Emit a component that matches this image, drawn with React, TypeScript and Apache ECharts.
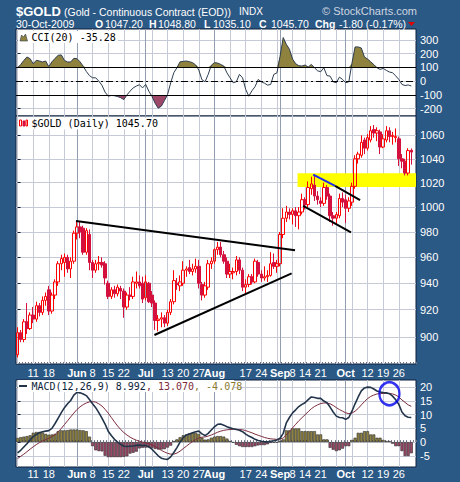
import React, { useEffect, useRef } from 'react';
import * as echarts from 'echarts';

// ---- categories (trading days 2009) ----
const mayDays = [4, 5, 6, 7, 8, 11, 12, 13, 14, 15, 18, 19, 20, 21, 22, 26, 27, 28, 29];
const junDays = [1, 2, 3, 4, 5, 8, 9, 10, 11, 12, 15, 16, 17, 18, 19, 22, 23, 24, 25, 26, 29, 30];
const julDays = [1, 2, 6, 7, 8, 9, 10, 13, 14, 15, 16, 17, 20, 21, 22, 23, 24, 27, 28, 29, 30, 31];
const augDays = [3, 4, 5, 6, 7, 10, 11, 12, 13, 14, 17, 18, 19, 20, 21, 24, 25, 26, 27, 28, 31];
const sepDays = [1, 2, 3, 4, 8, 9, 10, 11, 14, 15, 16, 17, 18, 21, 22, 23, 24, 25, 28, 29, 30];
const octDays = [1, 2, 5, 6, 7, 8, 9, 12, 13, 14, 15, 16, 19, 20, 21, 22, 23, 26, 27, 28, 29, 30];

// ---- price series ----
const opens = [
  887, 903, 898, 911, 906, 916, 913, 923, 918, 927,
  935, 919, 931, 941, 955, 956, 960, 951, 957, 979,
  984, 983, 964, 978, 956, 950, 955, 956, 955, 940,
  930, 935, 932, 936, 934, 922, 931, 930, 940, 941,
  940, 929, 940, 931, 925, 912, 913, 914, 910, 918,
  926, 940, 938, 940, 950, 952, 949, 951, 953, 939,
  931, 937, 955, 957, 966, 968, 962, 957, 947, 948,
  949, 958, 950, 937, 939, 945, 941, 956, 947, 944,
  945, 946, 956, 953, 955, 978, 991, 996, 994, 997,
  993, 996, 1006, 1002, 1015, 1018, 1009, 1005, 1003, 1016,
  1009, 993, 991, 993, 1007, 1006, 999, 1004, 1017, 1040,
  1043, 1056, 1049, 1056, 1065, 1062, 1063, 1050, 1056, 1064,
  1059, 1058, 1057, 1040, 1038, 1028, 1047.2,
];
const highs = [
  907, 905, 913, 925, 918, 922, 926, 925, 930, 933,
  938, 933, 943, 957, 962, 963, 962, 960, 981, 989,
  988, 985, 983, 982, 958, 958, 961, 960, 957, 942,
  937, 938, 939, 938, 936, 933, 937, 945, 949, 946,
  945, 946, 941, 934, 927, 916, 918, 916, 920, 928,
  950, 944, 946, 957, 953, 958, 955, 959, 958, 941,
  941, 958, 960, 967, 972, 972, 965, 960, 955, 952,
  961, 960, 952, 943, 947, 947, 959, 958, 950, 953,
  950, 964, 963, 958, 980, 999, 1001, 999, 999, 1000,
  1000, 1011, 1008, 1021, 1025, 1027, 1013, 1008, 1020, 1018,
  1011, 996, 996, 1011, 1012, 1010, 1008, 1020, 1043, 1046,
  1060, 1058, 1061, 1068, 1069, 1067, 1065, 1061, 1068, 1067,
  1063, 1066, 1059, 1044, 1040, 1049, 1048.8,
];
const lows = [
  885, 896, 896, 902, 905, 910, 911, 915, 916, 923,
  916, 917, 928, 938, 950, 945, 948, 944, 955, 974,
  975, 962, 962, 950, 944, 948, 950, 952, 939, 928,
  928, 929, 930, 928, 914, 920, 927, 928, 936, 936,
  925, 927, 925, 922, 905, 904, 907, 907, 908, 916,
  924, 935, 934, 938, 945, 947, 946, 948, 936, 927,
  929, 935, 951, 955, 962, 960, 955, 944, 944, 943,
  946, 947, 934, 931, 937, 939, 940, 945, 941, 942,
  941, 945, 951, 948, 953, 975, 988, 990, 986, 984,
  982, 994, 998, 1000, 1010, 1005, 1002, 1000, 1001, 1006,
  988, 985, 986, 991, 1000, 987, 996, 1001, 1015, 1036,
  1041, 1044, 1047, 1054, 1058, 1055, 1044, 1049, 1054, 1054,
  1052, 1054, 1034, 1032, 1026, 1026, 1035.1,
];
const closes = [
  903, 898, 911, 906, 916, 913, 923, 918, 927, 930,
  919, 931, 941, 955, 959, 960, 951, 957, 979, 984,
  980, 964, 981, 956, 950, 955, 956, 954, 944, 930,
  935, 932, 937, 934, 922, 931, 930, 941, 941, 938,
  928, 941, 926, 925, 912, 913, 914, 910, 918, 926,
  942, 939, 941, 950, 951, 949, 951, 953, 940, 931,
  938, 955, 957, 966, 968, 962, 957, 947, 949, 949,
  958, 950, 937, 939, 945, 941, 957, 947, 944, 945,
  946, 955, 953, 955, 978, 991, 996, 994, 997, 993,
  996, 1006, 1002, 1016, 1019, 1009, 1006, 1003, 1016, 1009,
  993, 991, 994, 1007, 1004, 999, 1005, 1017, 1040, 1044,
  1054, 1049, 1058, 1064, 1062, 1064, 1050, 1057, 1064, 1059,
  1060, 1059, 1040, 1038, 1028, 1047, 1045.7,
];

// ---- indicators ----
const cciValues = [
  97, 120, 150, 175, 163, 126, 151, 146, 139, 146,
  105, 140, 165, 187, 190, 150, 139, 139, 165, 163,
  140, 108, 70, 40, 24, 24, 0, -30, -80, -109,
  -104, -106, -112, -120, -134, -100, -73, -49, -36, -26,
  -49, -24, -73, -110, -160, -196, -182, -141, -97, -12,
  61, 97, 140, 143, 146, 141, 134, 117, 80, 10,
  -5, 49, 115, 134, 131, 121, 109, 60, 24, -12,
  -5, 49, 24, -60, -109, -70, -40, 12, -5, -15,
  -29, -24, 49, 60, 180, 316, 267, 231, 160, 126,
  112, 109, 117, 102, 121, 97, 75, 68, 97, 40,
  36, -5, -12, 29, 12, -12, -5, 130, 248, 248,
  240, 175, 160, 140, 120, 97, 85, 92, 78, 66,
  61, 38, 12, -24, -32, -28, -35.28,
];
const macdLine = [
  -3.9, -3.0, -1.8, -0.6, 0.8, 2.0, 2.8, 3.4, 3.8, 4.0,
  4.2, 5.0, 6.8, 8.8, 10.8, 12.6, 14.0, 15.2, 17.2, 18.2,
  18.0, 17.6, 17.0, 15.6, 14.0, 12.6, 10.8, 8.8, 6.6, 4.0,
  2.4, 1.0, 0.0, -0.8, -1.5, -1.6, -1.5, -1.4, -1.2, -1.1,
  -1.3, -1.2, -1.7, -2.6, -3.8, -5.0, -5.9, -6.2, -6.3, -5.4,
  -3.8, -2.0, 0.0, 1.6, 2.6, 3.0, 3.4, 3.8, 4.0, 3.0,
  2.4, 3.2, 4.4, 5.6, 6.5, 6.6, 6.2, 5.6, 5.2, 4.9,
  4.6, 4.3, 3.8, 2.9, 2.2, 1.7, 1.0, 0.6, 0.3, 0.1,
  0.1, 0.3, 0.5, 0.8, 1.4, 3.2, 7.0, 9.0, 10.7, 11.8,
  13.0, 13.8, 14.4, 15.5, 16.5, 16.3, 16.0, 16.0, 15.0, 14.4,
  12.8, 11.0, 9.5, 9.0, 8.9, 8.3, 9.0, 11.3, 14.0, 16.5,
  18.7, 19.8, 20.1, 20.0, 19.4, 18.7, 18.3, 18.1, 18.0, 17.7,
  16.8, 15.5, 13.8, 11.0, 9.6, 9.1, 8.992,
];
const signalLine = [
  -6.0, -5.2, -4.4, -3.5, -2.6, -1.7, -0.9, -0.2, 0.4, 0.9,
  1.4, 2.0, 2.8, 3.8, 5.0, 6.4, 7.8, 9.2, 10.6, 11.9,
  12.9, 13.7, 14.3, 14.7, 14.8, 14.6, 14.0, 13.2, 12.0, 10.6,
  9.0, 7.4, 5.9, 4.6, 3.5, 2.6, 1.8, 1.2, 0.7, 0.3,
  0.0, -0.3, -0.6, -1.0, -1.6, -2.3, -3.0, -3.6, -4.1, -4.4,
  -4.4, -4.0, -3.3, -2.4, -1.5, -0.6, 0.2, 0.9, 1.5, 1.8,
  1.9, 2.2, 2.6, 3.1, 3.6, 4.0, 4.3, 4.5, 4.6, 4.7,
  4.7, 4.6, 4.5, 4.2, 3.8, 3.4, 2.9, 2.5, 2.1, 1.7,
  1.4, 1.2, 1.1, 1.0, 1.1, 1.5, 2.6, 3.9, 5.2, 6.5,
  7.8, 8.9, 10.0, 11.1, 12.2, 13.0, 13.6, 14.1, 14.3, 14.3,
  14.0, 13.4, 12.6, 11.9, 11.3, 10.7, 10.4, 10.6, 11.3, 12.3,
  13.6, 14.8, 15.9, 16.7, 17.2, 17.6, 17.7, 17.8, 17.8, 17.8,
  17.6, 17.2, 16.5, 15.4, 14.5, 13.6, 13.07,
];
const macdHist = [
  1.5, 1.8, 2.0, 2.2, 2.5, 3.4, 3.7, 3.7, 3.5, 3.0,
  2.7, 2.8, 3.0, 4.0, 4.3, 4.3, 4.4, 4.6, 4.6, 4.6,
  4.4, 4.3, 4.0, 2.0, -1.5, -3.0, -3.3, -3.4, -5.0, -5.5,
  -5.5, -5.5, -5.5, -5.5, -5.4, -5.2, -4.2, -3.9, -3.5, -2.3,
  -2.1, -2.0, -2.0, -2.1, -2.5, -2.7, -2.7, -2.6, -2.0, -1.3,
  0.4, 1.0, 1.8, 2.5, 2.8, 3.2, 3.4, 3.4, 3.0, 1.6,
  0.9, 1.0, 1.6, 2.0, 2.2, 2.2, 2.0, 1.3, 0.4, -0.2,
  -1.0, -1.5, -1.8, -1.8, -1.8, -1.8, -1.5, -1.2, -1.1, -1.1,
  -0.8, -0.3, -0.2, -0.2, 0.5, 1.0, 4.3, 4.3, 5.0, 5.0,
  5.0, 4.0, 4.0, 4.0, 4.0, 4.0, 2.8, 2.8, 1.0, 1.0,
  -2.1, -2.8, -3.3, -3.0, -2.4, -1.5, -1.5, 0.8, 1.6, 3.4,
  3.4, 4.0, 4.0, 2.8, 2.8, 1.6, 1.6, 0.8, 0.4, 0.4,
  -0.6, -1.5, -1.5, -3.3, -5.1, -5.1, -4.078,
];

// ---- ticks / labels ----
const priceTicks = [900, 920, 940, 960, 980, 1000, 1020, 1040, 1060];
const cciTicks = [-200, -100, 0, 100, 200, 300];
const macdTicks = [-5, 0, 5, 10, 15, 20];
const xLabelDates = [
  '2009-05-11', '2009-05-18', '2009-06-01', '2009-06-08', '2009-06-15', '2009-06-22',
  '2009-07-01', '2009-07-13', '2009-07-20', '2009-07-27', '2009-08-03', '2009-08-17',
  '2009-08-24', '2009-09-01', '2009-09-08', '2009-09-14', '2009-09-21', '2009-10-01',
  '2009-10-12', '2009-10-19', '2009-10-26',
];
const xLabelTexts = [
  '11', '18', 'Jun', '8', '15', '22', 'Jul', '13', '20', '27', 'Aug', '17',
  '24', 'Sep', '8', '14', '21', 'Oct', '12', '19', '26',
];

// ---- annotations (index, price) ----
const triangleUpper = [[18.7, 988.8], [88.8, 965.6]];
const triangleLower = [[43.8, 901.3], [87.7, 947.5]];
const channelBlue = [[94.6, 1026.7], [101.6, 1017.3]];
const channelUpper = [[101.6, 1017.3], [109.6, 1005.6]];
const channelLower = [[91.4, 1000.9], [106.7, 979.6]];
const supportZone = [[89.6, 1027.8], [127.5, 1016.5]];
const macdCircle = [119, 17.7];

const BLUE = '#2b5985';
const BORDER = '#0d1f3c';
const GRID_LIGHT = '#c6cad6';
const GRID_MONTH = '#939db0';
const OLIVE = '#8e823e';
const MAUVE = '#9d4869';
const SANS = '"Liberation Sans", Arial, sans-serif';
const MONO = '"DejaVu Sans Mono", monospace';

const App = () => {
  const ref = useRef<HTMLDivElement>(null);
  useEffect(() => {
    const chart = echarts.init(ref.current as HTMLDivElement, undefined, { renderer: 'svg' });
    const pad = (n: number) => (n < 10 ? '0' + n : '' + n);
    const monthSets: [string, number[]][] = [
      ['05', mayDays], ['06', junDays], ['07', julDays], ['08', augDays], ['09', sepDays], ['10', octDays],
    ];
    const dates: string[] = [];
    monthSets.forEach(([m, ds]) => ds.forEach((d) => dates.push(`2009-${m}-${pad(d)}`)));
    const categories = [...dates, ''];
    const N = categories.length;

    const weekIdx: number[] = [];
    const monthIdx: number[] = [];
    dates.forEach((d, i) => {
      const t = new Date(d + 'T00:00:00Z');
      if (i === 0) { weekIdx.push(i); return; }
      const p = new Date(dates[i - 1] + 'T00:00:00Z');
      if (t.getUTCDay() < p.getUTCDay() || (t.getTime() - p.getTime()) >= 7 * 864e5) weekIdx.push(i);
      if (t.getUTCMonth() !== p.getUTCMonth()) monthIdx.push(i);
    });

    const labelMap = new Map<string, string>();
    xLabelDates.forEach((d, i) => labelMap.set(d, xLabelTexts[i]));
    const ln = Math.log;

    const gridBase = {
      left: 16, right: 44, show: true, backgroundColor: '#ffffff',
      borderColor: BORDER, borderWidth: 1, outerBoundsMode: 'none', containLabel: false,
    };

    const catAxis = (g: number, showLabels: boolean) => ({
      type: 'category', gridIndex: g, data: categories, boundaryGap: true,
      axisLine: { show: false },
      axisTick: { show: showLabels, interval: 0, inside: true, length: 2, lineStyle: { color: '#6a7284' } },
      axisLabel: showLabels ? {
        show: true, interval: (_i: number, v: string) => labelMap.has(v), margin: g === 1 ? 3 : 1,
        color: '#ffffff', fontSize: 11, fontFamily: SANS,
        formatter: (v: string) => {
          const t = labelMap.get(v) || '';
          return /^[A-Z]/.test(t) ? `{m|${t}}` : t;
        },
        rich: { m: { fontWeight: 'bold', color: '#ffffff', fontSize: 11, fontFamily: SANS } },
      } : { show: false },
      splitLine: { show: false },
    });
    const lineAxis = (g: number, ticks: number[], color: string) => ({
      type: 'value', gridIndex: g, min: -0.5, max: N - 0.5,
      axisLine: { show: false },
      axisTick: { show: false, customValues: ticks },
      axisLabel: { show: false, customValues: ticks },
      splitLine: { show: true, lineStyle: { color, width: 1 } },
    });

    const yBase = (g: number, min: number, max: number, ticks: number[], fmt?: (v: number) => string) => ({
      type: 'value', gridIndex: g, position: 'right', min, max,
      axisLine: { show: false },
      axisTick: { show: true, customValues: ticks, length: 3, lineStyle: { color: BORDER } },
      axisLabel: {
        customValues: ticks, color: '#ffffff', fontSize: 11, fontFamily: SANS, margin: 4,
        formatter: fmt || ((v: number) => String(v)),
      },
      splitLine: { show: true, lineStyle: { color: GRID_LIGHT, width: 1 } },
    });

    const cciUp = cciValues.map((v) => Math.max(v, 100));
    const cciDown = cciValues.map((v) => Math.min(v, -100));
    const candleData = opens.map((o, i) => [ln(o), ln(closes[i]), ln(lows[i]), ln(highs[i])]);
    const seg = (pts: number[][]) => pts.map(([x, p]) => [x, ln(p)]);
    const trend = (pts: number[][], color: string) => ({
      type: 'line', xAxisIndex: 4, yAxisIndex: 1, data: seg(pts), symbol: 'none', z: 5,
      lineStyle: { color, width: 2 }, silent: true,
    });

    const txt = (x: number, y: number, text: string, font: string, fill: string, extra: any = {}) => ({
      type: 'text', x, y, silent: true, z: 100,
      style: { text, font, fill, verticalAlign: 'middle', ...extra },
    });

    const option: any = {
      animation: false,
      backgroundColor: BLUE,
      grid: [
        { ...gridBase, top: 29, height: 87 },
        { ...gridBase, top: 116, height: 248 },
        { ...gridBase, top: 380, height: 87 },
      ],
      xAxis: [
        catAxis(0, false), lineAxis(0, weekIdx, GRID_LIGHT), lineAxis(0, monthIdx, GRID_MONTH),
        catAxis(1, true), lineAxis(1, weekIdx, GRID_LIGHT), lineAxis(1, monthIdx, GRID_MONTH),
        catAxis(2, true), lineAxis(2, weekIdx, GRID_LIGHT), lineAxis(2, monthIdx, GRID_MONTH),
      ],
      yAxis: [
        yBase(0, -253, 378, cciTicks),
        yBase(1, ln(880.3), ln(1076.8), priceTicks.map(ln), (v: number) => String(Math.round(Math.exp(v)))),
        yBase(2, -9.1, 22.7, macdTicks),
      ],
      series: [
        {
          type: 'line', xAxisIndex: 0, yAxisIndex: 0, data: cciUp, symbol: 'none', z: 1, silent: true,
          lineStyle: { width: 0, opacity: 0 }, areaStyle: { origin: 100, color: OLIVE, opacity: 1 },
        },
        {
          type: 'line', xAxisIndex: 0, yAxisIndex: 0, data: cciDown, symbol: 'none', z: 1, silent: true,
          lineStyle: { width: 0, opacity: 0 }, areaStyle: { origin: -100, color: MAUVE, opacity: 1 },
        },
        {
          type: 'line', xAxisIndex: 0, yAxisIndex: 0, data: cciValues, symbol: 'none', z: 3, silent: true,
          lineStyle: { color: '#2d3d50', width: 1 },
          markLine: {
            silent: true, symbol: ['none', 'none'], label: { show: false },
            lineStyle: { color: '#000', width: 1, type: 'solid' },
            data: [
              { yAxis: 100 }, { yAxis: -100 },
              { yAxis: 0, lineStyle: { color: '#000', width: 1, type: [7, 3, 2, 3] } },
            ],
          },
        },
        {
          type: 'line', xAxisIndex: 4, yAxisIndex: 1, data: [], symbol: 'none', z: 1, silent: true,
          markArea: {
            silent: true, itemStyle: { color: '#ffff00', opacity: 1 },
            data: [[{ coord: [supportZone[0][0], ln(supportZone[0][1])] }, { coord: [supportZone[1][0], ln(supportZone[1][1])] }]],
          },
        },
        {
          type: 'candlestick', xAxisIndex: 3, yAxisIndex: 1, data: candleData, barWidth: 3, z: 3, silent: true,
          itemStyle: {
            color: 'rgba(255,255,255,0)', color0: '#d4103e',
            borderColor: '#ff0000', borderColor0: '#d4103e', borderWidth: 1,
          },
        },
        trend(triangleUpper, '#000000'),
        trend(triangleLower, '#000000'),
        trend(channelUpper, '#000000'),
        trend(channelLower, '#000000'),
        trend(channelBlue, '#1f2bea'),
        {
          type: 'bar', xAxisIndex: 6, yAxisIndex: 2, data: macdHist, barWidth: 3, z: 2, silent: true,
          itemStyle: {
            color: (p: any) => (p.value >= 0 ? OLIVE : MAUVE),
            borderColor: '#2e2e2e', borderWidth: 0.6,
          },
        },
        {
          type: 'line', xAxisIndex: 6, yAxisIndex: 2, data: signalLine, symbol: 'none', z: 3, silent: true,
          lineStyle: { color: '#7c2c3c', width: 1 },
        },
        {
          type: 'line', xAxisIndex: 6, yAxisIndex: 2, data: macdLine, symbol: 'none', z: 4, silent: true,
          lineStyle: { color: '#22344a', width: 1.6 },
        },
        {
          type: 'scatter', xAxisIndex: 6, yAxisIndex: 2, data: [macdCircle], symbol: 'circle',
          symbolSize: [20, 23], z: 6, silent: true,
          itemStyle: { color: 'rgba(0,0,0,0)', borderColor: '#0000ee', borderWidth: 2.5 },
        },
      ],
      graphic: [
        txt(16, 11, '$GOLD', `bold 13px ${SANS}`, '#ffffff'),
        txt(64, 11.5, '(Gold - Continuous Contract (EOD))', `10.5px ${SANS}`, '#ffffff'),
        txt(239, 11.5, 'INDX', `10px ${SANS}`, '#ffffff'),
        txt(417, 11, '\u00a9 StockCharts.com', `11px ${SANS}`, '#cdd6e1', { align: 'right' }),
        txt(16, 24, '30-Oct-2009', `10.5px ${SANS}`, '#ffffff'),
        txt(95, 24, 'O', `bold 10.5px ${SANS}`, '#ffffff'),
        txt(105, 24, '1047.20', `10.5px ${SANS}`, '#ffffff'),
        txt(149, 24, 'H', `bold 10.5px ${SANS}`, '#ffffff'),
        txt(158, 24, '1048.80', `10.5px ${SANS}`, '#ffffff'),
        txt(204, 24, 'L', `bold 10.5px ${SANS}`, '#ffffff'),
        txt(213, 24, '1035.10', `10.5px ${SANS}`, '#ffffff'),
        txt(259, 24, 'C', `bold 10.5px ${SANS}`, '#ffffff'),
        txt(271, 24, '1045.70', `10.5px ${SANS}`, '#ffffff'),
        txt(315, 24, 'Chg', `bold 10.5px ${SANS}`, '#ffffff'),
        txt(339, 24, '-1.80 (-0.17%)', `10.5px ${SANS}`, '#ffffff'),
        { type: 'polygon', silent: true, z: 100, shape: { points: [[408, 22], [415, 22], [411.5, 26]] }, style: { fill: '#e00000' } },
        // CCI legend
        { type: 'rect', silent: true, z: 99, shape: { x: 18, y: 31, width: 100, height: 12 }, style: { fill: '#ffffff' } },
        { type: 'polygon', silent: true, z: 100, shape: { points: [[20, 41], [21.5, 35], [23.5, 37], [25.5, 34], [27.5, 41]] }, style: { fill: OLIVE, stroke: '#2d3d50', lineWidth: 0.6 } },
        txt(31.5, 37.5, 'CCI(20) -35.28', `10px ${MONO}`, '#000000'),
        // Price legend
        { type: 'rect', silent: true, z: 99, shape: { x: 18, y: 117.5, width: 143, height: 12 }, style: { fill: '#ffffff' } },
        { type: 'rect', silent: true, z: 100, shape: { x: 19.5, y: 120, width: 2, height: 6 }, style: { fill: '#ffffff', stroke: '#ff0000', lineWidth: 1 } },
        { type: 'rect', silent: true, z: 100, shape: { x: 23, y: 121, width: 2, height: 5 }, style: { fill: '#d4103e', stroke: '#d4103e', lineWidth: 1 } },
        { type: 'rect', silent: true, z: 100, shape: { x: 26, y: 120, width: 1.5, height: 6 }, style: { fill: '#ffffff', stroke: '#ff0000', lineWidth: 1 } },
        txt(31.5, 123.5, '$GOLD (Daily) 1045.70', `10px ${MONO}`, '#000000'),
        // MACD legend
        { type: 'rect', silent: true, z: 99, shape: { x: 18, y: 380, width: 216, height: 12 }, style: { fill: '#ffffff' } },
        { type: 'line', silent: true, z: 100, shape: { x1: 19, y1: 386, x2: 27, y2: 386 }, style: { stroke: '#22344a', lineWidth: 2 } },
        {
          type: 'text', x: 31.5, y: 386, silent: true, z: 100,
          style: {
            text: '{a|MACD(12,26,9) 8.992}{b|, 13.070}{c|, -4.078}', verticalAlign: 'middle',
            font: `10px ${MONO}`,
            rich: {
              a: { fill: '#0d1f3c', font: `10px ${MONO}` },
              b: { fill: '#7c2c3c', font: `10px ${MONO}` },
              c: { fill: '#8a7a30', font: `10px ${MONO}` },
            },
          },
        },
      ],
    };
    chart.setOption(option);
    return () => chart.dispose();
  }, []);
  return (
    <div
      ref={ref}
      style={{ position: 'fixed', left: 0, top: 0, width: 460, height: 482, background: BLUE }}
    />
  );
};

export default App;
